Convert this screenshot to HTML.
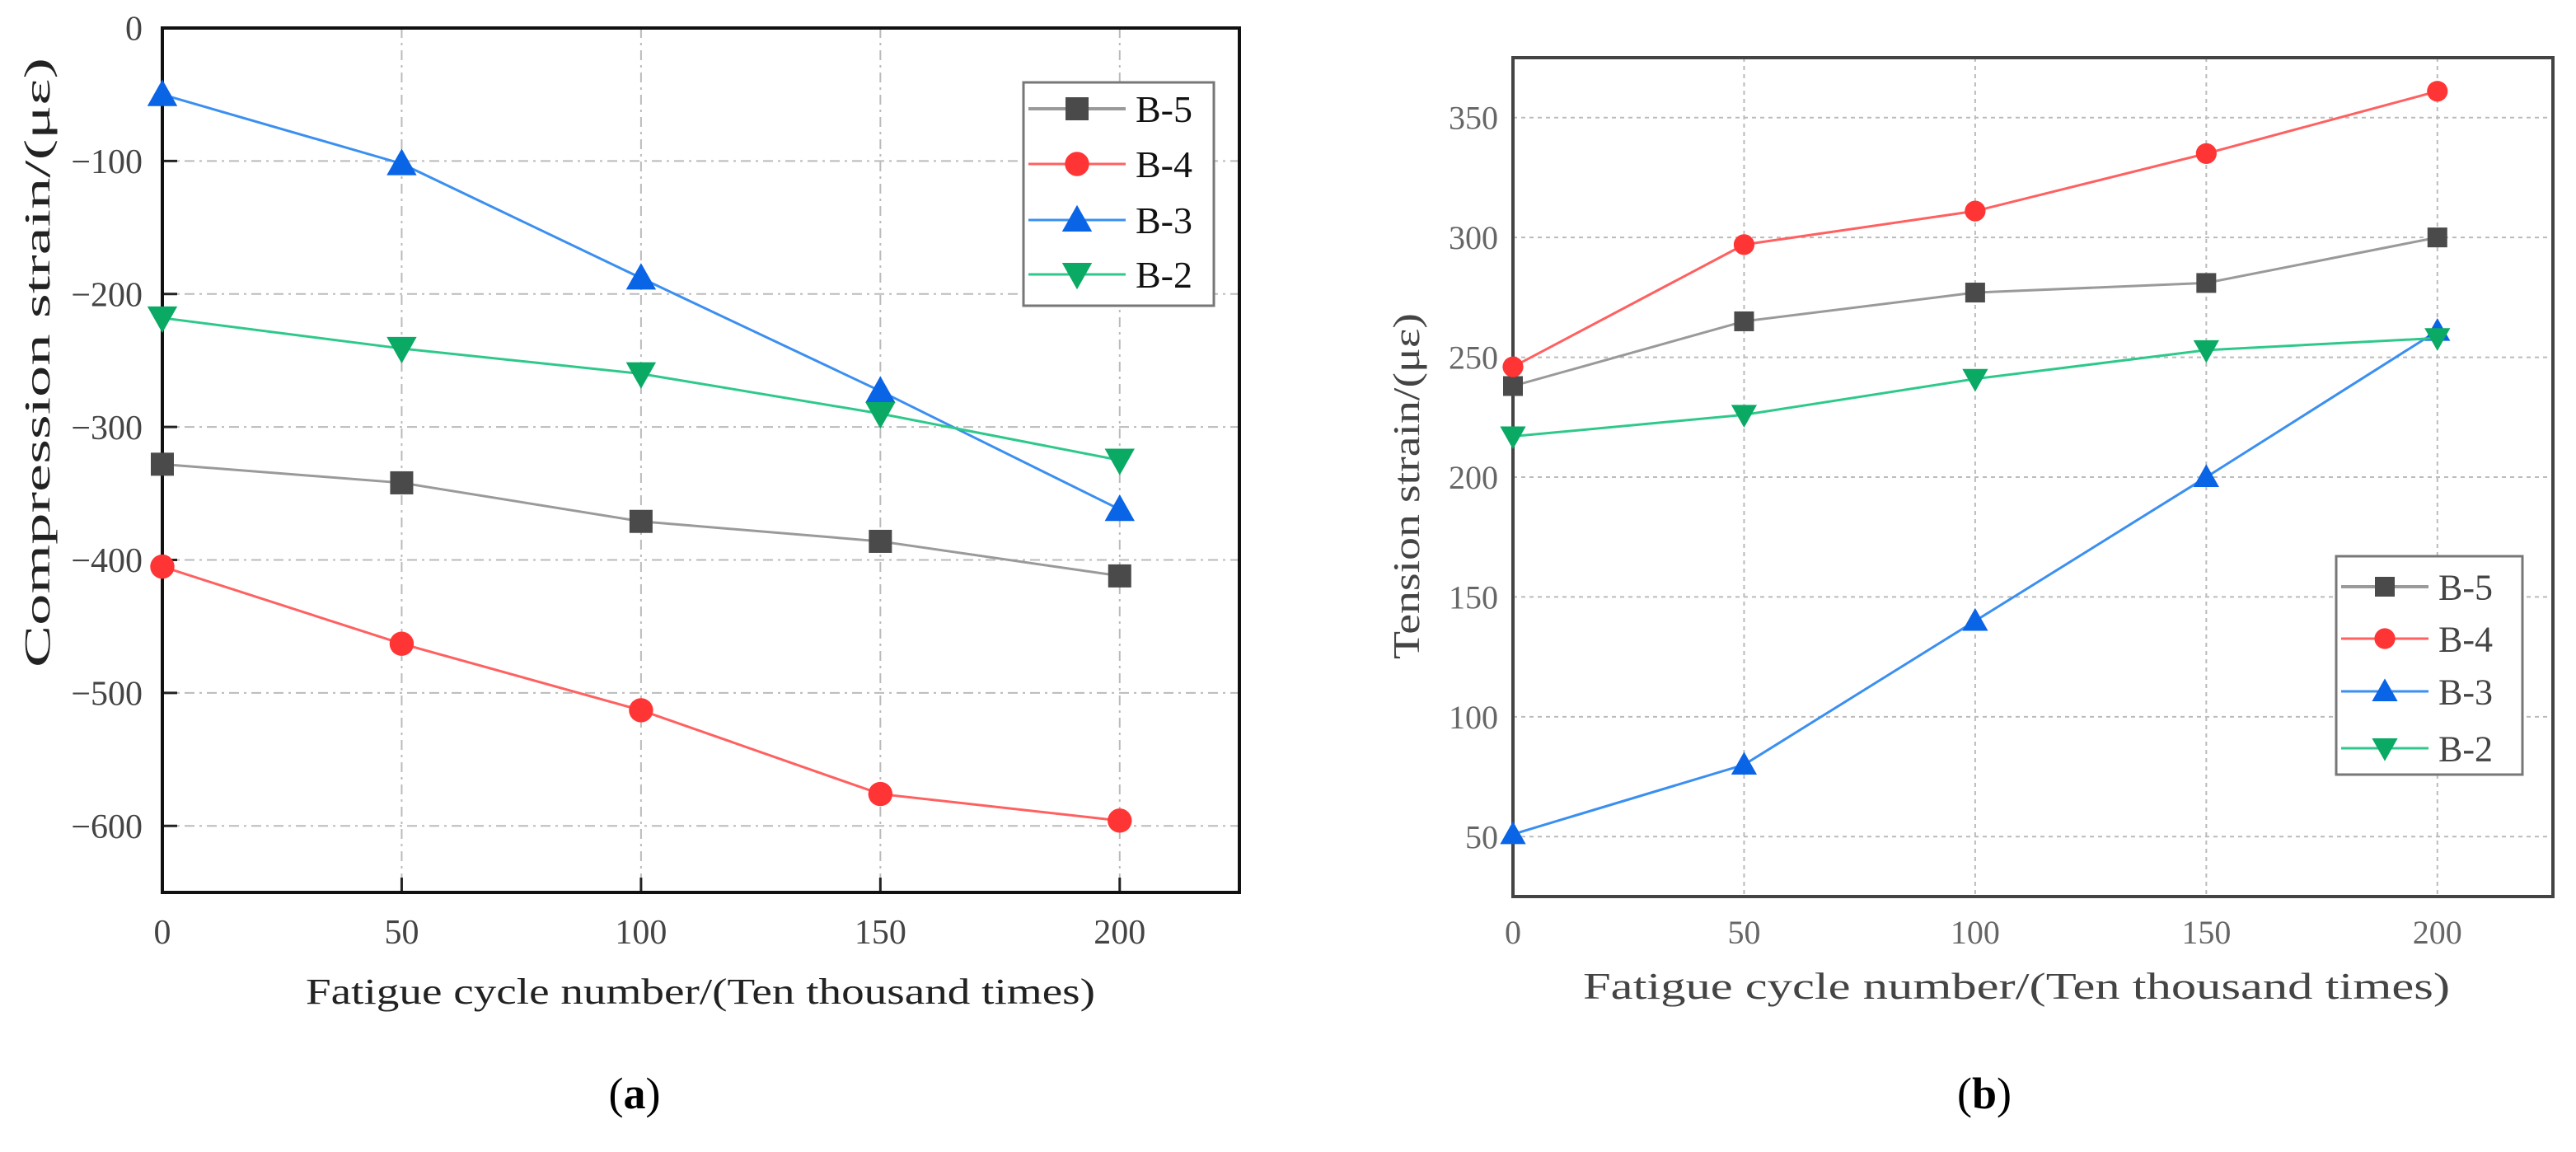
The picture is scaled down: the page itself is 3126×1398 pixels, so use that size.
<!DOCTYPE html>
<html><head><meta charset="utf-8"><style>
html,body{margin:0;padding:0;background:#fff}
svg{display:block}
text{font-family:"Liberation Serif",serif}
</style></head><body>
<svg id="fig" width="3126" height="1398" viewBox="0 0 3126 1398" xmlns="http://www.w3.org/2000/svg">
<g id="chartA"></g>
<g id="chartB"></g>
<text x="770" y="1345" font-size="54" text-anchor="middle">(<tspan font-weight="bold">a</tspan>)</text>
<text x="2408" y="1345" font-size="54" text-anchor="middle">(<tspan font-weight="bold">b</tspan>)</text>
</svg>
<script>
const xCats = [0, 50, 100, 150, 200];
const seriesNames = ["B-5", "B-4", "B-3", "B-2"];
const aB5 = [-328, -342, -371, -386, -412];
const aB4 = [-405, -463, -513, -576, -596];
const aB3 = [-50, -102, -188, -273, -362];
const aB2 = [-218, -241, -260, -290, -325];
const bB5 = [238, 265, 277, 281, 300];
const bB4 = [246, 297, 311, 335, 361];
const bB3 = [51, 80, 140, 200, 261];
const bB2 = [217, 226, 241, 253, 258];
const aYTicks = [0, -100, -200, -300, -400, -500, -600];
const bYTicks = [50, 100, 150, 200, 250, 300, 350];
const xTickLabels = ["0", "50", "100", "150", "200"];

const NS = "http://www.w3.org/2000/svg";
function mk(parent, tag, attrs, txt){
  const e = document.createElementNS(NS, tag);
  for (const k in attrs) e.setAttribute(k, attrs[k]);
  if (txt !== undefined) e.textContent = txt;
  parent.appendChild(e); return e;
}
const styles = [
  {line:"#9a9a9a", fill:"#4a4a4a", shape:"square"},
  {line:"#ff6060", fill:"#ff3535", shape:"circle"},
  {line:"#3a8ff0", fill:"#0a64e6", shape:"up"},
  {line:"#2ec98a", fill:"#0aaa64", shape:"down"}
];
function marker(g, shape, x, y, s, fill){
  let m;
  if (shape==="square") m = mk(g,"rect",{x:x-s,y:y-s,width:2*s,height:2*s,fill:fill});
  else if (shape==="circle") m = mk(g,"circle",{cx:x,cy:y,r:s*1.05,fill:fill});
  else if (shape==="up") m = mk(g,"polygon",{points:`${x},${y-s*1.3} ${x-s*1.3},${y+s} ${x+s*1.3},${y+s}`,fill:fill});
  else m = mk(g,"polygon",{points:`${x},${y+s*1.3} ${x-s*1.3},${y-s} ${x+s*1.3},${y-s}`,fill:fill});
  return m;
}
function draw(cfg){
  const g = document.getElementById(cfg.id);
  const X = v => cfg.L + (v - cfg.xmin)/(cfg.xmax-cfg.xmin)*(cfg.R-cfg.L);
  const Y = v => cfg.B - (v - cfg.ymin)/(cfg.ymax-cfg.ymin)*(cfg.B-cfg.T);
  xCats.forEach((v,i)=>{
    const gl = mk(g,"line",{x1:X(v),y1:cfg.T,x2:X(v),y2:cfg.B,stroke:"#bbb","stroke-width":2,"stroke-dasharray":cfg.dash});
    
    
    const t = mk(g,"text",{x:X(v),y:cfg.xLabY,"font-size":cfg.tickFont,"text-anchor":"middle",fill:cfg.tickColor},xTickLabels[i]);
    
    
    const tk = mk(g,"line",{x1:X(v),y1:cfg.B,x2:X(v),y2:cfg.B-cfg.tickLen,stroke:"#222","stroke-width":3});
    
    
  });
  cfg.yTicks.forEach(v=>{
    const gl = mk(g,"line",{x1:cfg.L,y1:Y(v),x2:cfg.R,y2:Y(v),stroke:"#bbb","stroke-width":2,"stroke-dasharray":cfg.dash});
    
    
    const t = mk(g,"text",{x:cfg.L-cfg.yLabGap,y:Y(v)+cfg.tickFont*0.35,"font-size":cfg.tickFont,"text-anchor":"end",fill:cfg.tickColor},(v<0?"\u2212"+(-v):String(v)));
    
    
    const tk = mk(g,"line",{x1:cfg.L,y1:Y(v),x2:cfg.L+cfg.tickLen,y2:Y(v),stroke:"#222","stroke-width":3});
    
    
  });
  const frame = mk(g,"rect",{x:cfg.L,y:cfg.T,width:cfg.R-cfg.L,height:cfg.B-cfg.T,fill:"none",stroke:cfg.frameColor,"stroke-width":4});
  
  
  cfg.series.forEach((vals,si)=>{
    const st = styles[si];
    const pts = vals.map((v,i)=>X(xCats[i])+","+Y(v)).join(" ");
    const pl = mk(g,"polyline",{points:pts,fill:"none",stroke:st.line,"stroke-width":3});
    
    
    vals.forEach((v,i)=>{
      const m = marker(g,st.shape,X(xCats[i]),Y(v),cfg.ms,st.fill);
      
      
    });
  });
  const lg = cfg.leg;
  const box = mk(g,"rect",{x:lg.x,y:lg.y,width:lg.w,height:lg.h,fill:"#fff",stroke:"#777","stroke-width":3});
  
  
  seriesNames.forEach((n,si)=>{
    const st = styles[si];
    const yy = lg.rows[si];
    const ll = mk(g,"line",{x1:lg.x+6,y1:yy,x2:lg.x+lg.lineW,y2:yy,stroke:st.line,"stroke-width":si===0?4:3});
    
    
    const m = marker(g,st.shape,lg.x+6+(lg.lineW-6)/2,yy,cfg.ms,st.fill);
    
    
    const t = mk(g,"text",{x:lg.x+lg.lineW+12,y:yy+lg.font*0.35,"font-size":lg.font,fill:cfg.legColor},n);
    
    
  });
  const xt = mk(g,"text",{x:cfg.xTitle[0],y:cfg.xTitle[1],"font-size":cfg.titleFont,"text-anchor":"middle",textLength:cfg.xTitle[2],lengthAdjust:"spacingAndGlyphs",fill:cfg.titleColor},"Fatigue cycle number/(Ten thousand times)");
  
  
  const yt = mk(g,"text",{x:0,y:0,"font-size":cfg.titleFont,"text-anchor":"middle",textLength:cfg.yTitle[2],lengthAdjust:"spacingAndGlyphs",fill:cfg.titleColor,transform:`translate(${cfg.yTitle[0]},${cfg.yTitle[1]}) rotate(-90)`},cfg.yTitleText);
  
  
}
draw({id:"chartA",L:197,R:1504,T:34,B:1083,xmin:0,xmax:225,ymin:-650,ymax:0,
  yTicks:aYTicks,series:[aB5,aB4,aB3,aB2],dash:"12,6,3,6",tickFont:42,tickColor:"#444",
  xLabY:1145,yLabGap:24,tickLen:18,frameColor:"#111",ms:14,
  leg:{x:1242,y:100,w:231,h:271,rows:[132,199,267,333],lineW:124,font:46},legColor:"#111",
  xTitle:[850,1218,958],yTitle:[60,440,740],yTitleText:"Compression strain/(\u03bc\u03b5)",titleFont:44,titleColor:"#222"});
draw({id:"chartB",L:1836,R:3098,T:70,B:1088,xmin:0,xmax:225,ymin:25,ymax:375,
  yTicks:bYTicks,series:[bB5,bB4,bB3,bB2],dash:"5,5",tickFont:40,tickColor:"#666",
  xLabY:1145,yLabGap:18,tickLen:0,frameColor:"#444",ms:12,
  leg:{x:2835,y:675,w:226,h:265,rows:[712,775,839,908],lineW:112,font:44},legColor:"#444",
  xTitle:[2447,1212,1052],yTitle:[1722,590,420],yTitleText:"Tension strain/(\u03bc\u03b5)",titleFont:46,titleColor:"#444"});
</script>
</body></html>
